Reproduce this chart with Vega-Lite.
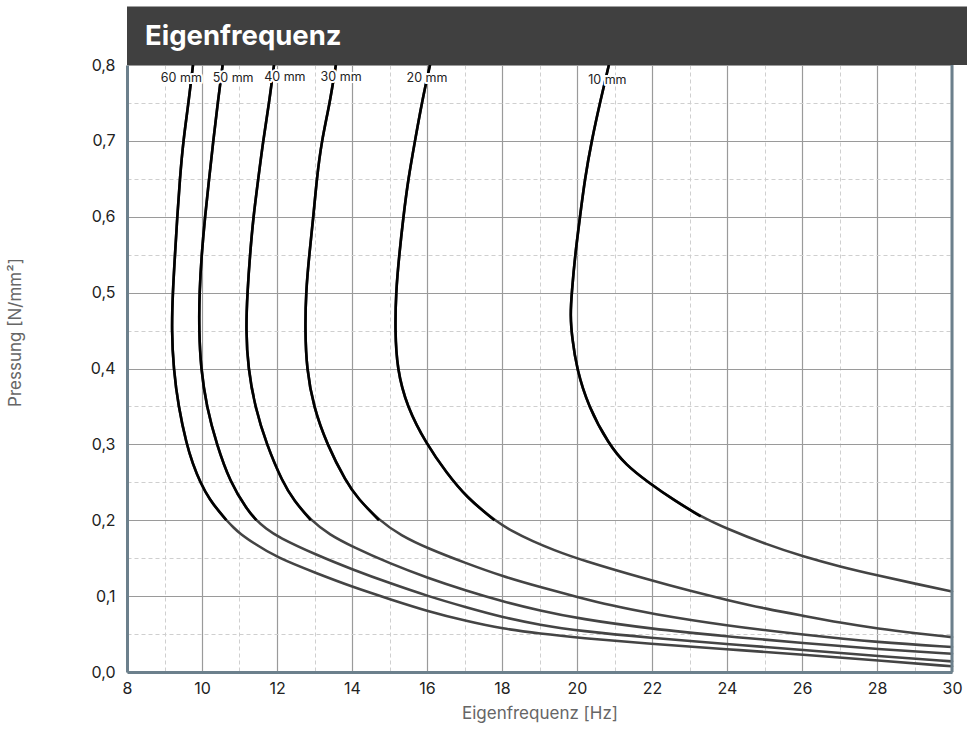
{
  "$schema": "https://vega.github.io/schema/vega-lite/v6.json",
  "width": 825,
  "height": 607,
  "autosize": "none",
  "padding": {"left": 127, "top": 65, "right": 15, "bottom": 61},
  "background": "white",
  "config": {"view": {"stroke": null}, "font": "Inter"},
  "resolve": {"axis": {"x": "independent", "y": "independent"}},
  "datasets": {
    "curves": [
      {"d": "60", "f": 9.76, "p": 0.80}, {"d": "60", "f": 9.64, "p": 0.75}, {"d": "60", "f": 9.50, "p": 0.70}, {"d": "60", "f": 9.41, "p": 0.65}, {"d": "60", "f": 9.34, "p": 0.60}, {"d": "60", "f": 9.28, "p": 0.55}, {"d": "60", "f": 9.22, "p": 0.50}, {"d": "60", "f": 9.19, "p": 0.45}, {"d": "60", "f": 9.24, "p": 0.40}, {"d": "60", "f": 9.37, "p": 0.35}, {"d": "60", "f": 9.59, "p": 0.30}, {"d": "60", "f": 9.75, "p": 0.275}, {"d": "60", "f": 9.95, "p": 0.25}, {"d": "60", "f": 10.22, "p": 0.226}, {"d": "60", "f": 10.45, "p": 0.212}, {"d": "60", "f": 10.65, "p": 0.20}, {"d": "60", "f": 10.85, "p": 0.19}, {"d": "60", "f": 11.0, "p": 0.183}, {"d": "60", "f": 11.37, "p": 0.17}, {"d": "60", "f": 11.99, "p": 0.151}, {"d": "60", "f": 13.06, "p": 0.130}, {"d": "60", "f": 14.02, "p": 0.112}, {"d": "60", "f": 15.01, "p": 0.096}, {"d": "60", "f": 16.02, "p": 0.080}, {"d": "60", "f": 17.06, "p": 0.067}, {"d": "60", "f": 18.02, "p": 0.057}, {"d": "60", "f": 19.01, "p": 0.0505}, {"d": "60", "f": 20.08, "p": 0.045}, {"d": "60", "f": 21.95, "p": 0.037}, {"d": "60", "f": 23.99, "p": 0.030}, {"d": "60", "f": 26.04, "p": 0.023}, {"d": "60", "f": 28.04, "p": 0.015}, {"d": "60", "f": 30, "p": 0.0075},

      {"d": "50", "f": 10.55, "p": 0.80}, {"d": "50", "f": 10.42, "p": 0.75}, {"d": "50", "f": 10.30, "p": 0.70}, {"d": "50", "f": 10.19, "p": 0.65}, {"d": "50", "f": 10.08, "p": 0.60}, {"d": "50", "f": 9.99, "p": 0.55}, {"d": "50", "f": 9.93, "p": 0.50}, {"d": "50", "f": 9.92, "p": 0.45}, {"d": "50", "f": 9.97, "p": 0.40}, {"d": "50", "f": 10.12, "p": 0.35}, {"d": "50", "f": 10.39, "p": 0.30}, {"d": "50", "f": 10.75, "p": 0.25}, {"d": "50", "f": 11.2, "p": 0.214}, {"d": "50", "f": 11.45, "p": 0.20}, {"d": "50", "f": 11.7, "p": 0.189}, {"d": "50", "f": 12.02, "p": 0.178}, {"d": "50", "f": 13.06, "p": 0.154}, {"d": "50", "f": 14.02, "p": 0.135}, {"d": "50", "f": 15.01, "p": 0.117}, {"d": "50", "f": 16.02, "p": 0.100}, {"d": "50", "f": 17.06, "p": 0.085}, {"d": "50", "f": 18.02, "p": 0.072}, {"d": "50", "f": 19.01, "p": 0.062}, {"d": "50", "f": 20.08, "p": 0.054}, {"d": "50", "f": 21.95, "p": 0.045}, {"d": "50", "f": 23.99, "p": 0.037}, {"d": "50", "f": 26.04, "p": 0.029}, {"d": "50", "f": 28.04, "p": 0.021}, {"d": "50", "f": 30, "p": 0.014},

      {"d": "40", "f": 11.92, "p": 0.80}, {"d": "40", "f": 11.79, "p": 0.75}, {"d": "40", "f": 11.63, "p": 0.70}, {"d": "40", "f": 11.50, "p": 0.65}, {"d": "40", "f": 11.37, "p": 0.60}, {"d": "40", "f": 11.28, "p": 0.55}, {"d": "40", "f": 11.21, "p": 0.50}, {"d": "40", "f": 11.17, "p": 0.45}, {"d": "40", "f": 11.23, "p": 0.40}, {"d": "40", "f": 11.41, "p": 0.35}, {"d": "40", "f": 11.72, "p": 0.30}, {"d": "40", "f": 12.15, "p": 0.25}, {"d": "40", "f": 12.45, "p": 0.226}, {"d": "40", "f": 12.9, "p": 0.20}, {"d": "40", "f": 13.4, "p": 0.181}, {"d": "40", "f": 14.02, "p": 0.165}, {"d": "40", "f": 15.01, "p": 0.143}, {"d": "40", "f": 16.02, "p": 0.124}, {"d": "40", "f": 17.06, "p": 0.107}, {"d": "40", "f": 18.02, "p": 0.093}, {"d": "40", "f": 19.01, "p": 0.081}, {"d": "40", "f": 20.08, "p": 0.070}, {"d": "40", "f": 21.95, "p": 0.057}, {"d": "40", "f": 23.99, "p": 0.047}, {"d": "40", "f": 26.04, "p": 0.038}, {"d": "40", "f": 28.04, "p": 0.030}, {"d": "40", "f": 30, "p": 0.024},

      {"d": "30", "f": 13.57, "p": 0.80}, {"d": "30", "f": 13.41, "p": 0.75}, {"d": "30", "f": 13.19, "p": 0.70}, {"d": "30", "f": 13.06, "p": 0.65}, {"d": "30", "f": 12.97, "p": 0.60}, {"d": "30", "f": 12.86, "p": 0.55}, {"d": "30", "f": 12.77, "p": 0.50}, {"d": "30", "f": 12.75, "p": 0.45}, {"d": "30", "f": 12.79, "p": 0.40}, {"d": "30", "f": 12.97, "p": 0.35}, {"d": "30", "f": 13.33, "p": 0.30}, {"d": "30", "f": 13.85, "p": 0.25}, {"d": "30", "f": 14.15, "p": 0.229}, {"d": "30", "f": 14.72, "p": 0.20}, {"d": "30", "f": 15.3, "p": 0.18}, {"d": "30", "f": 16.02, "p": 0.163}, {"d": "30", "f": 17.06, "p": 0.143}, {"d": "30", "f": 18.02, "p": 0.126}, {"d": "30", "f": 19.01, "p": 0.112}, {"d": "30", "f": 20.08, "p": 0.098}, {"d": "30", "f": 20.88, "p": 0.088}, {"d": "30", "f": 21.95, "p": 0.077}, {"d": "30", "f": 23.99, "p": 0.061}, {"d": "30", "f": 26.04, "p": 0.049}, {"d": "30", "f": 28.04, "p": 0.039}, {"d": "30", "f": 30, "p": 0.033},

      {"d": "20", "f": 16.08, "p": 0.80}, {"d": "20", "f": 15.86, "p": 0.75}, {"d": "20", "f": 15.68, "p": 0.70}, {"d": "20", "f": 15.50, "p": 0.65}, {"d": "20", "f": 15.37, "p": 0.60}, {"d": "20", "f": 15.26, "p": 0.55}, {"d": "20", "f": 15.17, "p": 0.50}, {"d": "20", "f": 15.15, "p": 0.45}, {"d": "20", "f": 15.20, "p": 0.40}, {"d": "20", "f": 15.46, "p": 0.35}, {"d": "20", "f": 15.99, "p": 0.30}, {"d": "20", "f": 16.53, "p": 0.262}, {"d": "20", "f": 17.06, "p": 0.23}, {"d": "20", "f": 17.8, "p": 0.20}, {"d": "20", "f": 18.25, "p": 0.186}, {"d": "20", "f": 18.83, "p": 0.172}, {"d": "20", "f": 19.37, "p": 0.161}, {"d": "20", "f": 20.08, "p": 0.148}, {"d": "20", "f": 21.95, "p": 0.121}, {"d": "20", "f": 23.01, "p": 0.107}, {"d": "20", "f": 23.99, "p": 0.095}, {"d": "20", "f": 25.06, "p": 0.083}, {"d": "20", "f": 26.04, "p": 0.074}, {"d": "20", "f": 27.01, "p": 0.065}, {"d": "20", "f": 28.04, "p": 0.057}, {"d": "20", "f": 29.06, "p": 0.051}, {"d": "20", "f": 30, "p": 0.046},

      {"d": "10", "f": 20.85, "p": 0.80}, {"d": "10", "f": 20.61, "p": 0.75}, {"d": "10", "f": 20.39, "p": 0.70}, {"d": "10", "f": 20.21, "p": 0.65}, {"d": "10", "f": 20.08, "p": 0.60}, {"d": "10", "f": 19.95, "p": 0.55}, {"d": "10", "f": 19.86, "p": 0.50}, {"d": "10", "f": 19.82, "p": 0.47}, {"d": "10", "f": 19.87, "p": 0.44}, {"d": "10", "f": 19.99, "p": 0.40}, {"d": "10", "f": 20.30, "p": 0.35}, {"d": "10", "f": 20.85, "p": 0.30}, {"d": "10", "f": 21.3, "p": 0.273}, {"d": "10", "f": 21.9, "p": 0.25}, {"d": "10", "f": 22.6, "p": 0.226}, {"d": "10", "f": 23.3, "p": 0.205}, {"d": "10", "f": 23.99, "p": 0.189}, {"d": "10", "f": 25.06, "p": 0.168}, {"d": "10", "f": 26.04, "p": 0.152}, {"d": "10", "f": 27.01, "p": 0.139}, {"d": "10", "f": 28.04, "p": 0.127}, {"d": "10", "f": 29.06, "p": 0.116}, {"d": "10", "f": 30, "p": 0.106}
    ],
    "labels": [
      {"t": "60 mm", "f": 9.45, "p": 0.783},
      {"t": "50 mm", "f": 10.83, "p": 0.783},
      {"t": "40 mm", "f": 12.21, "p": 0.784},
      {"t": "30 mm", "f": 13.71, "p": 0.784},
      {"t": "20 mm", "f": 16.0, "p": 0.783},
      {"t": "10 mm", "f": 20.81, "p": 0.780}
    ]
  },
  "layer": [
    {
      "data": {"values": [{}]},
      "mark": {"type": "point", "opacity": 0},
      "encoding": {
        "x": {
          "datum": 8, "type": "quantitative",
          "scale": {"domain": [8, 30], "nice": false, "zero": false},
          "axis": {"orient": "bottom", "values": [9, 11, 13, 15, 17, 19, 21, 23, 25, 27, 29], "labels": false, "ticks": false, "domain": false, "title": null, "grid": true, "gridColor": "#cfcfcf", "gridDash": [4, 3], "gridWidth": 1}
        },
        "y": {
          "datum": 0, "type": "quantitative",
          "scale": {"domain": [0, 0.8], "nice": false},
          "axis": {"orient": "left", "values": [0.05, 0.15, 0.25, 0.35, 0.45, 0.55, 0.65, 0.75], "labels": false, "ticks": false, "domain": false, "title": null, "grid": true, "gridColor": "#cfcfcf", "gridDash": [4, 3], "gridWidth": 1}
        }
      }
    },
    {
      "data": {"name": "curves"},
      "mark": {"type": "line", "strokeWidth": 2.6, "interpolate": "basis", "color": "#444444", "strokeCap": "round"},
      "encoding": {
        "x": {
          "field": "f", "type": "quantitative",
          "axis": {
            "orient": "bottom",
            "title": "Eigenfrequenz [Hz]",
            "values": [8, 10, 12, 14, 16, 18, 20, 22, 24, 26, 28, 30],
            "labelFlush": false, "labelOverlap": false, "labelBound": false,
            "labelFontSize": 16, "labelColor": "#222222", "labelPadding": 8,
            "ticks": false,
            "domainColor": "#6c808c", "domainWidth": 3,
            "grid": true, "gridColor": "#9a9a9a", "gridWidth": 1.2,
            "titleFontSize": 17, "titleColor": "#666666", "titleFontWeight": "normal", "titlePadding": 9
          }
        },
        "y": {
          "field": "p", "type": "quantitative",
          "axis": {
            "orient": "left",
            "title": "Pressung [N/mm²]",
            "values": [0, 0.1, 0.2, 0.3, 0.4, 0.5, 0.6, 0.7, 0.8],
            "labelExpr": "replace(format(datum.value, '.1f'), '.', ',')",
            "labelFlush": false, "labelOverlap": false, "labelBound": false,
            "labelFontSize": 16, "labelColor": "#222222", "labelPadding": 12,
            "ticks": false,
            "domainColor": "#6c808c", "domainWidth": 3,
            "grid": true, "gridColor": "#9a9a9a", "gridWidth": 1.2,
            "titleFontSize": 17, "titleColor": "#666666", "titleFontWeight": "normal",
            "titleX": -112, "titleY": 267, "titleAlign": "center", "titleBaseline": "middle", "titleAngle": -90
          }
        },
        "detail": {"field": "d"},
        "order": {"field": "p", "sort": "descending"}
      }
    },
    {
      "data": {"name": "curves"},
      "transform": [{"filter": "datum.p >= 0.2"}],
      "mark": {"type": "line", "strokeWidth": 2.6, "interpolate": "basis", "color": "#000000", "strokeCap": "butt"},
      "encoding": {
        "x": {"field": "f", "type": "quantitative", "axis": null},
        "y": {"field": "p", "type": "quantitative", "axis": null},
        "detail": {"field": "d"},
        "order": {"field": "p", "sort": "descending"}
      }
    },
    {
      "data": {"values": [{}]},
      "mark": {"type": "rule", "color": "#6c808c", "strokeWidth": 3},
      "encoding": {"x": {"datum": 30, "type": "quantitative", "axis": null}, "y": {"datum": 0, "type": "quantitative", "axis": null}, "y2": {"datum": 0.8}}
    },
    {
      "data": {"name": "labels"},
      "mark": {"type": "text", "fontSize": 12.5, "stroke": "white", "strokeWidth": 4, "strokeJoin": "round", "fill": "white", "baseline": "middle", "align": "center"},
      "encoding": {"x": {"field": "f", "type": "quantitative", "axis": null}, "y": {"field": "p", "type": "quantitative", "axis": null}, "text": {"field": "t"}}
    },
    {
      "data": {"name": "labels"},
      "mark": {"type": "text", "fontSize": 12.5, "color": "#222222", "baseline": "middle", "align": "center"},
      "encoding": {"x": {"field": "f", "type": "quantitative", "axis": null}, "y": {"field": "p", "type": "quantitative", "axis": null}, "text": {"field": "t"}}
    },
    {
      "data": {"values": [{}]},
      "mark": {"type": "rect", "color": "#404040"},
      "encoding": {"x": {"datum": 8, "type": "quantitative", "axis": null}, "x2": {"datum": 30.4}, "y": {"datum": 0.8, "type": "quantitative", "axis": null}, "y2": {"datum": 0.877}}
    },
    {
      "data": {"values": [{}]},
      "mark": {"type": "text", "text": "Eigenfrequenz", "color": "white", "fontSize": 27.5, "fontWeight": "bold", "align": "left", "baseline": "alphabetic"},
      "encoding": {"x": {"datum": 8.48, "type": "quantitative", "axis": null}, "y": {"datum": 0.8264, "type": "quantitative", "axis": null}}
    }
  ]
}
